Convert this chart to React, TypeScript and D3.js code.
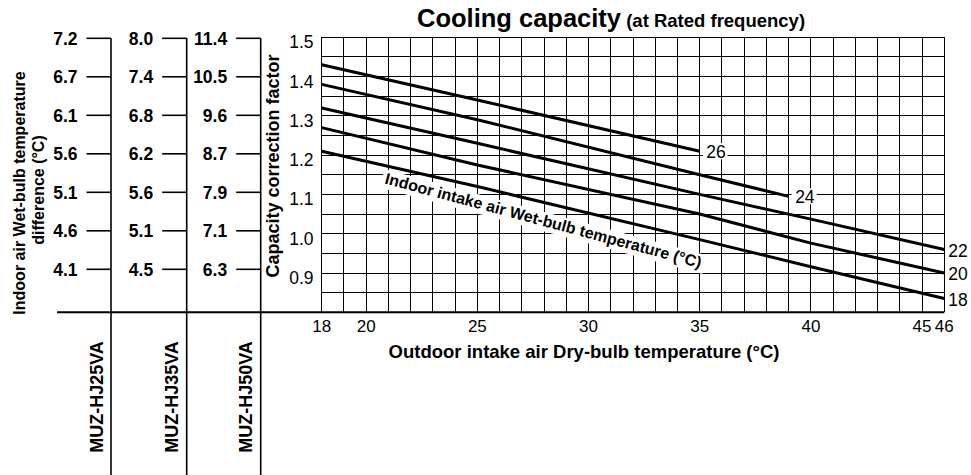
import * as d3 from "d3";
import React from "react";

// outdoor dry-bulb temperature (°C) on x, capacity correction factor on y
const outdoorTicks = [18, 20, 25, 30, 35, 40, 45, 46];
const capacityTicks = [1.5, 1.4, 1.3, 1.2, 1.1, 1.0, 0.9];

// indoor wet-bulb curves, [outdoor temp, factor]
const wb26: [number, number][] = [[18, 1.43], [25, 1.34], [35, 1.21]];
const wb24: [number, number][] = [[18, 1.38], [25, 1.29], [35, 1.15], [39, 1.095]];
const wb22: [number, number][] = [[18, 1.32], [25, 1.23], [35, 1.1], [40, 1.037], [46, 0.96]];
const wb20: [number, number][] = [[18, 1.27], [25, 1.175], [35, 1.05], [40, 0.976], [46, 0.9]];
const wb18: [number, number][] = [[18, 1.21], [25, 1.12], [35, 0.985], [40, 0.916], [46, 0.835]];

// wet-bulb temperature difference per model, top row to bottom row
const models = ["MUZ-HJ25VA", "MUZ-HJ35VA", "MUZ-HJ50VA"];
const diff25 = [7.2, 6.7, 6.1, 5.6, 5.1, 4.6, 4.1];
const diff35 = [8.0, 7.4, 6.8, 6.2, 5.6, 5.1, 4.5];
const diff50 = [11.4, 10.5, 9.6, 8.7, 7.9, 7.1, 6.3];

const W = 971;
const H = 475;
const FONT = "'Liberation Sans', Arial, Helvetica, sans-serif";

const plot = { left: 321.7, right: 944.3, top: 37.2, bottom: 312.3 };
const colX = [111, 186.7, 260.7];

export default function App() {
  const x = d3.scaleLinear().domain([18, 46]).range([plot.left, plot.right]);
  const y = d3.scaleLinear().domain([0.8, 1.5]).range([plot.bottom, plot.top]);
  const row = d3.scaleLinear().domain([0, 6]).range([38.3, 269.3]);

  const line = d3
    .line<[number, number]>()
    .x((d) => x(d[0]))
    .y((d) => y(d[1]));

  const curves = [
    { label: "26", pts: wb26, inside: true },
    { label: "24", pts: wb24, inside: true },
    { label: "22", pts: wb22, inside: false },
    { label: "20", pts: wb20, inside: false },
    { label: "18", pts: wb18, inside: false },
  ];

  const columns = [diff25, diff35, diff50];

  const vGrid = d3.range(18, 47);
  const hGrid = d3.range(0, 15).map((i) => 0.8 + i * 0.05);

  return (
    <svg
      width={W}
      height={H}
      style={{ position: "absolute", left: 0, top: 0, background: "#fff" }}
      fontFamily={FONT}
    >
      <rect width={W} height={H} fill="#fff" />

      {/* title */}
      <text x={417} y={26.7} fontWeight="bold" fill="#000">
        <tspan fontSize={25.5}>Cooling capacity</tspan>
        <tspan fontSize={18.5}> (at Rated frequency)</tspan>
      </text>

      {/* grid */}
      <g stroke="#000" strokeWidth={1} shapeRendering="crispEdges">
        {vGrid.map((t) => (
          <line key={"v" + t} x1={x(t)} x2={x(t)} y1={y(1.5)} y2={y(0.8)} />
        ))}
        {hGrid.map((v, i) => (
          <line key={"h" + i} x1={x(18)} x2={x(46)} y1={y(v)} y2={y(v)} />
        ))}
      </g>

      {/* rotated curve family label with white backing */}
      <g transform={`translate(${x(20.8)},${y(1.128)}) rotate(15)`}>
        <rect x={-3} y={-14} width={334} height={19} fill="#fff" />
        <text x={0} y={0} fontSize={16} fontWeight="bold" fill="#000">
          Indoor intake air Wet-bulb temperature (°C)
        </text>
      </g>

      {/* curves */}
      {curves.map((c) => {
        const end = c.pts[c.pts.length - 1];
        const ex = x(end[0]);
        const ey = y(end[1]);
        return (
          <g key={c.label}>
            <path d={line(c.pts) || ""} fill="none" stroke="#000" strokeWidth={3} />
            {c.inside ? (
              <g>
                <rect x={ex + 3} y={ey - 8} width={25} height={16} fill="#fff" />
                <text x={ex + 6.5} y={ey + 1} dy="0.35em" fontSize={17.5} fill="#000">
                  {c.label}
                </text>
              </g>
            ) : (
              <text x={ex + 4} y={ey + 1} dy="0.35em" fontSize={17.5} fill="#000">
                {c.label}
              </text>
            )}
          </g>
        );
      })}

      {/* y axis labels */}
      {capacityTicks.map((v) => (
        <text key={v} x={313.5} y={y(v) + 11} textAnchor="end" fontSize={17.5} fill="#000">
          {v.toFixed(1)}
        </text>
      ))}

      {/* x axis labels */}
      {outdoorTicks.map((t) => (
        <text key={t} x={x(t)} y={331.7} textAnchor="middle" fontSize={17} fill="#000">
          {t}
        </text>
      ))}

      <text x={584} y={358.3} textAnchor="middle" fontSize={18.5} fontWeight="bold" fill="#000">
        Outdoor intake air Dry-bulb temperature (°C)
      </text>

      <text
        transform="translate(278.5,166) rotate(-90)"
        textAnchor="middle"
        fontSize={18}
        fontWeight="bold"
        fill="#000"
      >
        Capacity correction factor
      </text>

      {/* left model columns */}
      <g stroke="#000">
        <line x1={57} x2={plot.right} y1={plot.bottom} y2={plot.bottom} strokeWidth={2} />
        {colX.map((cx) => (
          <line key={cx} x1={cx} x2={cx} y1={row(0)} y2={H} strokeWidth={1.6} />
        ))}
        {columns.map((vals, ci) =>
          vals.map((v, i) => (
            <line
              key={ci + "-" + i}
              x1={colX[ci] - 24.5}
              x2={colX[ci]}
              y1={row(i)}
              y2={row(i)}
              strokeWidth={1.6}
            />
          ))
        )}
      </g>
      {columns.map((vals, ci) =>
        vals.map((v, i) => (
          <text
            key={"t" + ci + "-" + i}
            x={colX[ci] - 33.5}
            y={row(i)}
            dy="0.36em"
            textAnchor="end"
            fontSize={17.5}
            fontWeight="bold"
            fill="#000"
          >
            {v.toFixed(1)}
          </text>
        ))
      )}
      {models.map((m, i) => (
        <text
          key={m}
          transform={`translate(${colX[i] - 8.5},397) rotate(-90)`}
          textAnchor="middle"
          fontSize={18}
          fontWeight="bold"
          fill="#000"
        >
          {m}
        </text>
      ))}

      {/* left axis title */}
      <text
        transform="translate(24.5,193) rotate(-90)"
        textAnchor="middle"
        fontSize={16}
        fontWeight="bold"
        fill="#000"
      >
        Indoor air Wet-bulb temperature
      </text>
      <text
        transform="translate(43.5,190) rotate(-90)"
        textAnchor="middle"
        fontSize={16}
        fontWeight="bold"
        fill="#000"
      >
        difference (°C)
      </text>
    </svg>
  );
}
